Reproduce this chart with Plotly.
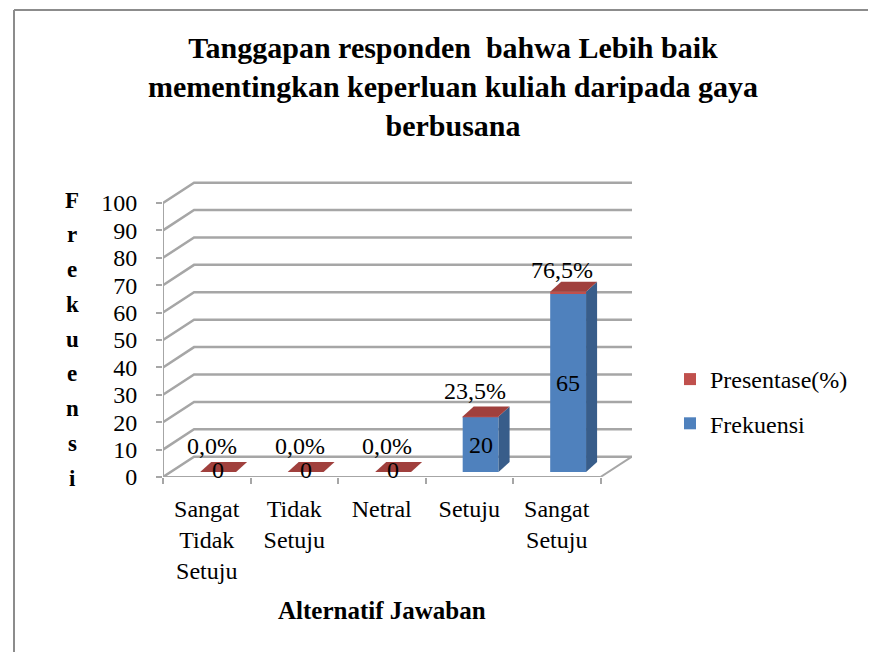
import plotly.graph_objects as go

# ---------------- data ----------------
categories = ["Sangat<br>Tidak<br>Setuju", "Tidak<br>Setuju", "Netral", "Setuju", "Sangat<br>Setuju"]
frekuensi = [0, 0, 0, 20, 65]
presentase = [0.0, 0.0, 0.0, 0.235, 0.765]
y_ticks = [0, 10, 20, 30, 40, 50, 60, 70, 80, 90, 100]
y_title_letters = ["F", "r", "e", "k", "u", "e", "n", "s", "i"]

title_text = "Tanggapan responden\u00a0 bahwa Lebih baik<br>mementingkan keperluan kuliah daripada gaya<br>berbusana"
x_title = "Alternatif Jawaban"

# ---------------- style / layout ----------------
FONT = "Liberation Serif"
BLUE = "#4F81BD"
BLUE_SIDE = "#385D8A"
RED = "#C0504D"
RED_TOP = "#A0403D"
GRID = "#A6A6A6"

OFF = 8                      # browser body margin
FIG_W, FIG_H = 876 - OFF, 652 - OFF
ML, MT, MB, MR = 155, 173, 175, 244
PW = FIG_W - ML - MR
PH = FIG_H - MT - MB


def px_x(px):   # screen pixel -> paper x
    return (px - OFF - ML) / PW


def px_y(py):   # screen pixel -> paper y
    return (FIG_H - MB - (py - OFF)) / PH


X_MIN, X_MAX = -0.5, 4.86
Y_MAX = 108
BACK_DX, BACK_DY = 0.355, 7.4      # depth of the 3D box (data units)
BAR_W = 0.41
BAR_SHIFT = 0.13
BAR_BASE = 1.8
BAR_DX, BAR_DY = 0.126, 3.65       # depth of the bars

idx = list(range(len(categories)))

fig = go.Figure()

fig.add_trace(go.Bar(
    x=idx, y=presentase, base=[BAR_BASE + f for f in frekuensi], name="Presentase(%)",
    width=BAR_W, offset=-BAR_W / 2 + BAR_SHIFT,
    marker=dict(color=RED, line=dict(width=0)),
    legendgroup="p", hoverinfo="skip",
))
fig.add_trace(go.Bar(
    x=idx, y=frekuensi, base=BAR_BASE, name="Frekuensi",
    width=BAR_W, offset=-BAR_W / 2 + BAR_SHIFT,
    marker=dict(color=BLUE, line=dict(width=0)),
    legendgroup="f", hoverinfo="skip",
))

shapes = []
for v in y_ticks:
    shapes.append(dict(
        type="path", xref="x", yref="y", layer="below",
        path=f"M {X_MIN},{v} L {X_MIN + BACK_DX},{v + BACK_DY} L {X_MAX},{v + BACK_DY}",
        line=dict(color=GRID, width=2.5),
    ))
shapes.append(dict(type="line", xref="x", yref="y", layer="below",
                   x0=4.5, y0=0, x1=4.5 + BACK_DX, y1=BACK_DY,
                   line=dict(color=GRID, width=2)))
shapes.append(dict(type="line", xref="x", yref="y", layer="below",
                   x0=X_MIN, y0=0, x1=4.5, y1=0, line=dict(color=GRID, width=2)))
shapes.append(dict(type="line", xref="x", yref="y", layer="below",
                   x0=X_MIN, y0=0, x1=X_MIN, y1=100, line=dict(color=GRID, width=2)))

for i, f, p in zip(idx, frekuensi, presentase):
    L = i - BAR_W / 2 + BAR_SHIFT
    R = L + BAR_W
    T = BAR_BASE + f + p
    if f > 0:
        shapes.append(dict(
            type="path", xref="x", yref="y", layer="above",
            path=f"M {R},{BAR_BASE} L {R + BAR_DX},{BAR_BASE + BAR_DY} L {R + BAR_DX},{T + BAR_DY} L {R},{T} Z",
            fillcolor=BLUE_SIDE, line=dict(width=0),
        ))
    shapes.append(dict(
        type="path", xref="x", yref="y", layer="above",
        path=f"M {L},{T} L {R},{T} L {R + BAR_DX},{T + BAR_DY} L {L + BAR_DX},{T + BAR_DY} Z",
        fillcolor=RED_TOP, line=dict(width=0),
    ))

# figure border (top and left)
shapes.append(dict(type="line", xref="paper", yref="paper",
                   x0=px_x(14), y0=px_y(10), x1=px_x(880), y1=px_y(10),
                   line=dict(color="#8C8C8C", width=2)))
shapes.append(dict(type="line", xref="paper", yref="paper",
                   x0=px_x(14), y0=px_y(10), x1=px_x(14), y1=px_y(660),
                   line=dict(color="#8C8C8C", width=2)))

annotations = []
for i, f, p in zip(idx, frekuensi, presentase):
    T = BAR_BASE + f + p
    pct = f"{p * 100:.1f}".replace(".", ",") + "%"
    annotations.append(dict(
        x=i + 0.06, y=T + BAR_DY, xref="x", yref="y", text=pct, showarrow=False,
        yanchor="bottom", yshift=(-3 if f > 50 else 1),
        font=dict(family=FONT, size=24, color="black"),
    ))
    annotations.append(dict(
        x=i + BAR_SHIFT, y=BAR_BASE + f / 2, xref="x", yref="y", text=str(f), showarrow=False,
        yanchor="middle", yshift=(2 if f == 0 else 0), font=dict(family=FONT, size=24, color="black"),
    ))

n = len(y_title_letters)
for k, ch in enumerate(y_title_letters):
    py = 200 + k * (478 - 200) / (n - 1)
    annotations.append(dict(
        x=px_x(72), y=px_y(py), xref="paper", yref="paper",
        text=f"<b>{ch}</b>", showarrow=False, xanchor="center", yanchor="middle",
        font=dict(family=FONT, size=23, color="black"),
    ))

annotations.append(dict(
    x=2, y=px_y(610), xref="x", yref="paper", text=f"<b>{x_title}</b>",
    showarrow=False, xanchor="center", yanchor="middle",
    font=dict(family=FONT, size=25, color="black"),
))

fig.update_layout(
    width=FIG_W, height=FIG_H,
    margin=dict(l=ML, r=MR, t=MT, b=MB),
    paper_bgcolor="white", plot_bgcolor="white",
    barmode="overlay",
    title=dict(text=f"<b>{title_text}</b>", x=(453 - OFF) / FIG_W, xref="container", xanchor="center",
               y=1 - (58 - OFF) / FIG_H, yref="container", yanchor="middle",
               font=dict(family=FONT, size=30, color="black")),
    xaxis=dict(range=[X_MIN, X_MAX], tickmode="array", tickvals=idx, ticktext=categories,
               ticks="", showgrid=False, zeroline=False, showline=False,
               ticklabelstandoff=15,
               tickfont=dict(family=FONT, size=24, color="black"),
               minor=dict(tickmode="linear", tick0=-0.5, dtick=1, ticks="outside", ticklen=6,
                          tickwidth=2, tickcolor=GRID, showgrid=False)),
    yaxis=dict(range=[0, Y_MAX], tickmode="array", tickvals=y_ticks,
               ticks="outside", ticklen=6, tickwidth=2, tickcolor=GRID,
               showgrid=False, zeroline=False, showline=False,
               ticklabelstandoff=14,
               tickfont=dict(family=FONT, size=24, color="black")),
    legend=dict(x=(670 - OFF) / FIG_W, xref="container", xanchor="left",
                y=1 - (357 - OFF) / FIG_H, yref="container", yanchor="top",
                traceorder="grouped", tracegroupgap=10,
                bgcolor="rgba(0,0,0,0)",
                font=dict(family=FONT, size=24, color="black")),
    shapes=shapes, annotations=annotations,
    showlegend=True,
)

fig.write_html("out.html")
